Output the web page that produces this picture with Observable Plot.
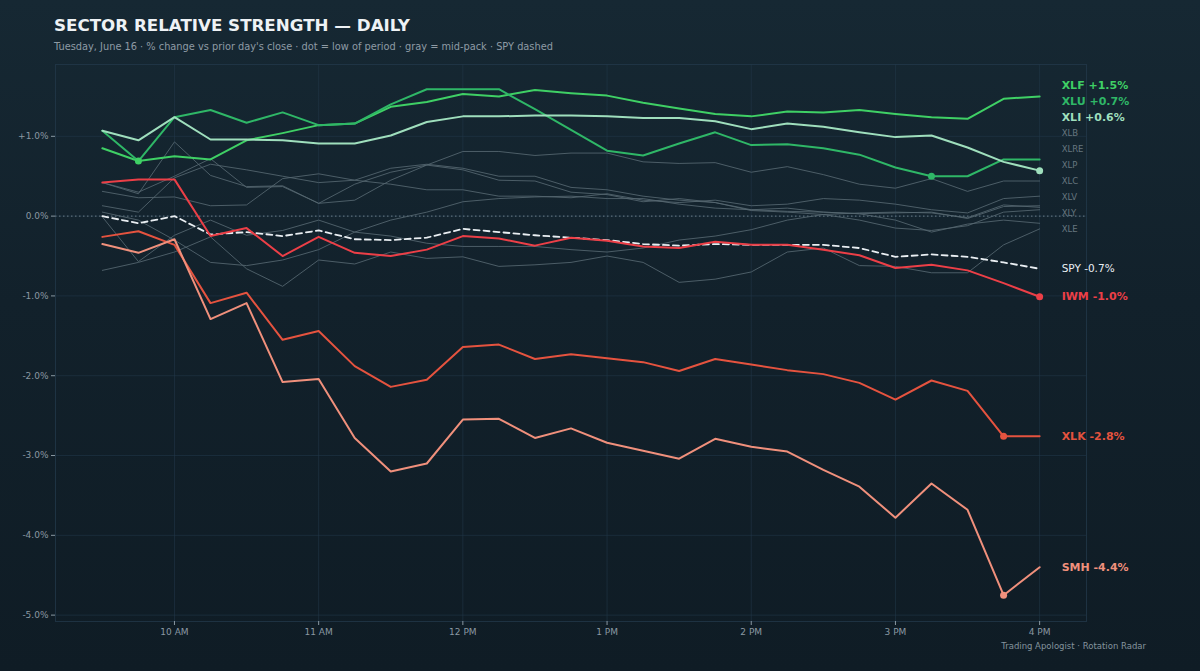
<!DOCTYPE html>
<html><head><meta charset="utf-8">
<script src="https://cdn.jsdelivr.net/npm/d3@7"></script>
<script src="https://cdn.jsdelivr.net/npm/@observablehq/plot@0.6"></script>
<style>
html,body{margin:0;padding:0;}
body{width:1200px;height:671px;overflow:hidden;background:linear-gradient(180deg,#162833 0%,#12212b 45%,#0f1c25 100%);font-family:"DejaVu Sans",sans-serif;position:relative;}
#title{position:absolute;left:54px;top:15px;font-size:16.7px;font-weight:bold;color:#eef2f5;white-space:nowrap;}
#subtitle{position:absolute;left:54px;top:41px;font-size:9.8px;color:#8e9ba5;white-space:nowrap;}
#chart{position:absolute;left:0;top:56px;}
#caption{position:absolute;right:54px;top:641px;font-size:8.5px;color:#84939d;white-space:nowrap;}
</style></head><body>
<div id="title">SECTOR RELATIVE STRENGTH — DAILY</div>
<div id="subtitle">Tuesday, June 16 · % change vs prior day's close · dot = low of period · gray = mid-pack · SPY dashed</div>
<div id="chart"></div>
<div id="caption">Trading Apologist · Rotation Radar</div>
<script>
// ---- data ----
const times = ["9:30","9:45","10:00","10:15","10:30","10:45","11:00","11:15","11:30","11:45","12:00","12:15","12:30","12:45","13:00","13:15","13:30","13:45","14:00","14:15","14:30","14:45","15:00","15:15","15:30","15:45","16:00"];
const hourTicks = [10, 11, 12, 13, 14, 15, 16];
const hourLabels = ["10 AM", "11 AM", "12 PM", "1 PM", "2 PM", "3 PM", "4 PM"];
const yTicks = [1, 0, -1, -2, -3, -4, -5];

const XLF = [0.85,0.69,0.75,0.71,0.95,1.04,1.14,1.16,1.37,1.43,1.53,1.50,1.58,1.54,1.51,1.42,1.35,1.28,1.25,1.31,1.30,1.33,1.28,1.24,1.22,1.47,1.50];
const XLU = [1.07,0.69,1.24,1.33,1.17,1.30,1.14,1.16,1.40,1.59,1.59,1.59,1.34,1.08,0.82,0.76,0.91,1.05,0.89,0.90,0.85,0.77,0.61,0.50,0.50,0.71,0.71];
const XLI = [1.07,0.95,1.24,0.96,0.96,0.95,0.91,0.91,1.01,1.18,1.25,1.25,1.26,1.26,1.25,1.23,1.23,1.19,1.09,1.16,1.12,1.05,0.99,1.01,0.86,0.68,0.57];
const SPY = [0,-0.09,0,-0.23,-0.20,-0.25,-0.18,-0.29,-0.30,-0.27,-0.16,-0.20,-0.24,-0.27,-0.30,-0.35,-0.37,-0.35,-0.36,-0.36,-0.36,-0.40,-0.51,-0.48,-0.51,-0.58,-0.66];
const IWM = [0.42,0.46,0.46,-0.25,-0.15,-0.50,-0.26,-0.46,-0.50,-0.42,-0.25,-0.28,-0.37,-0.27,-0.31,-0.38,-0.40,-0.32,-0.36,-0.36,-0.42,-0.49,-0.65,-0.61,-0.68,-0.84,-1.01];
const XLK = [-0.26,-0.19,-0.36,-1.09,-0.96,-1.55,-1.44,-1.88,-2.14,-2.05,-1.64,-1.61,-1.79,-1.73,-1.78,-1.83,-1.94,-1.79,-1.86,-1.93,-1.98,-2.09,-2.30,-2.06,-2.19,-2.76,-2.76];
const SMH = [-0.35,-0.46,-0.29,-1.29,-1.09,-2.08,-2.04,-2.78,-3.20,-3.10,-2.55,-2.54,-2.78,-2.66,-2.84,-2.94,-3.04,-2.79,-2.89,-2.95,-3.18,-3.39,-3.78,-3.35,-3.68,-4.75,-4.40];

const XLB  = [0.42,0.28,0.93,0.51,0.37,0.38,0.16,0.40,0.55,0.64,0.81,0.81,0.76,0.79,0.79,0.68,0.66,0.67,0.55,0.62,0.52,0.40,0.35,0.47,0.31,0.44,0.44];
const XLRE = [0.31,0.23,0.24,0.13,0.14,0.47,0.53,0.45,0.40,0.33,0.33,0.25,0.25,0.23,0.28,0.20,0.17,0.20,0.13,0.15,0.22,0.20,0.15,0.08,0.04,0.22,0.25];
const XLP  = [0.13,0.05,0.48,0.65,0.58,0.50,0.42,0.45,0.60,0.65,0.60,0.50,0.50,0.36,0.33,0.25,0.20,0.17,0.08,0.10,0.05,0.03,0.04,0.05,-0.03,0.12,0.13];
const XLC  = [0.42,0.30,0.50,0.72,0.36,0.37,0.16,0.20,0.45,0.64,0.58,0.45,0.44,0.30,0.27,0.18,0.22,0.17,0.07,0.05,0.02,0.04,0.05,0.04,-0.02,0.14,0.11];
const XLV  = [-0.01,-0.57,-0.24,-0.05,-0.24,-0.18,-0.05,-0.20,-0.25,-0.34,-0.38,-0.38,-0.38,-0.42,-0.45,-0.40,-0.30,-0.25,-0.17,-0.05,0.02,-0.05,-0.15,-0.18,-0.12,0.05,0.08];
const XLY  = [0.05,-0.05,-0.30,-0.58,-0.62,-0.55,-0.42,-0.20,-0.05,0.05,0.18,0.22,0.24,0.25,0.22,0.22,0.15,0.10,0.08,0.06,0.05,0.03,-0.05,-0.20,-0.10,-0.05,-0.09];
const XLE  = [-0.68,-0.58,-0.45,-0.26,-0.66,-0.88,-0.55,-0.60,-0.45,-0.53,-0.51,-0.63,-0.61,-0.58,-0.50,-0.58,-0.83,-0.79,-0.70,-0.45,-0.40,-0.62,-0.63,-0.71,-0.71,-0.36,-0.16];

const leaders  = [["XLF", XLF, "#3fd065"], ["XLU", XLU, "#2fb767"], ["XLI", XLI, "#9fdfbd"]];
const laggards = [["IWM", IWM, "#ec3f47"], ["XLK", XLK, "#e5533f"], ["SMH", SMH, "#f0907c"]];
const midpack  = [["XLB", XLB], ["XLRE", XLRE], ["XLP", XLP], ["XLC", XLC], ["XLV", XLV], ["XLY", XLY], ["XLE", XLE]];

// ---- build ----
const hours = times.map(t => { const [h, m] = t.split(":").map(Number); return h + m / 60; });
const toRows = (name, vals) => vals.map((v, i) => ({name, t: hours[i], v}));
const fmt = v => (v > 0 ? "+" : "") + v.toFixed(1) + "%";
const last = hours[hours.length - 1];

const colored = [...leaders, ...laggards].map(([name, vals, color]) => ({name, vals, color}));
const grays = midpack.map(([name, vals]) => ({name, vals}));

// label dodge (bottom-up), gap in data units
const gap = 0.2;
const labelItems = [
  ...colored.map(s => ({name: s.name, end: s.vals[s.vals.length - 1], kind: "color", color: s.color})),
  {name: "SPY", end: SPY[SPY.length - 1], kind: "spy", color: "#e9eef2"},
  ...grays.map(s => ({name: s.name, end: s.vals[s.vals.length - 1], kind: "gray", color: "#66767f"}))
].sort((a, b) => a.end - b.end);
let prev = -Infinity;
for (const it of labelItems) { it.ly = Math.max(it.end, prev + gap); prev = it.ly; it.t = last;
  it.label = it.kind === "gray" ? it.name : it.name + " " + fmt(it.end); }

const marks = [
  Plot.gridY(yTicks, {stroke: "#22384a", strokeOpacity: 0.55, strokeWidth: 1}),
  Plot.gridX(hourTicks, {stroke: "#22384a", strokeOpacity: 0.55, strokeWidth: 1}),
  Plot.frame({stroke: "#22384a", strokeOpacity: 0.8}),
  Plot.ruleY([0], {stroke: "#6d7c86", strokeDasharray: "1.5,2.5", strokeWidth: 1}),
  Plot.axisY({ticks: yTicks, tickFormat: fmt, tickSize: 4, tickPadding: 3, fontSize: 9, label: null}),
  Plot.axisX({ticks: hourTicks, tickFormat: d => hourLabels[hourTicks.indexOf(d)], tickSize: 4, tickPadding: 3, fontSize: 9, label: null}),
  ...grays.map(s => Plot.line(toRows(s.name, s.vals), {x: "t", y: "v", stroke: "#566771", strokeWidth: 1, strokeOpacity: 0.85})),
  Plot.line(toRows("SPY", SPY), {x: "t", y: "v", stroke: "#e9eef2", strokeWidth: 1.8, strokeDasharray: "6,4"}),
  ...colored.map(s => Plot.line(toRows(s.name, s.vals), {x: "t", y: "v", stroke: s.color, strokeWidth: 2})),
  ...colored.map(s => { const i = d3.leastIndex(s.vals, (a, b) => a - b);
    return Plot.dot([{t: hours[i], v: s.vals[i]}], {x: "t", y: "v", fill: s.color, r: 3.5}); }),
  Plot.text(labelItems.filter(d => d.kind === "color"), {x: "t", y: "ly", text: "label", fill: d => d.color, dx: 22, textAnchor: "start", fontSize: 11, fontWeight: "bold"}),
  Plot.text(labelItems.filter(d => d.kind === "spy"), {x: "t", y: "ly", text: "label", fill: "#e9eef2", dx: 22, textAnchor: "start", fontSize: 10.5}),
  Plot.text(labelItems.filter(d => d.kind === "gray"), {x: "t", y: "ly", text: "label", fill: "#66767f", dx: 22, textAnchor: "start", fontSize: 8.5})
];

const chart = Plot.plot({
  width: 1200, height: 600,
  marginLeft: 55, marginRight: 114, marginTop: 8, marginBottom: 35,
  x: {domain: [9.5 - 0.325, 16 + 0.325], label: null},
  y: {domain: [-5.08, 1.9], label: null},
  color: {type: "identity"},
  style: {background: "transparent", color: "#8a98a2", fontFamily: "DejaVu Sans, sans-serif"},
  marks
});
document.getElementById("chart").appendChild(chart);
</script>
</body></html>
